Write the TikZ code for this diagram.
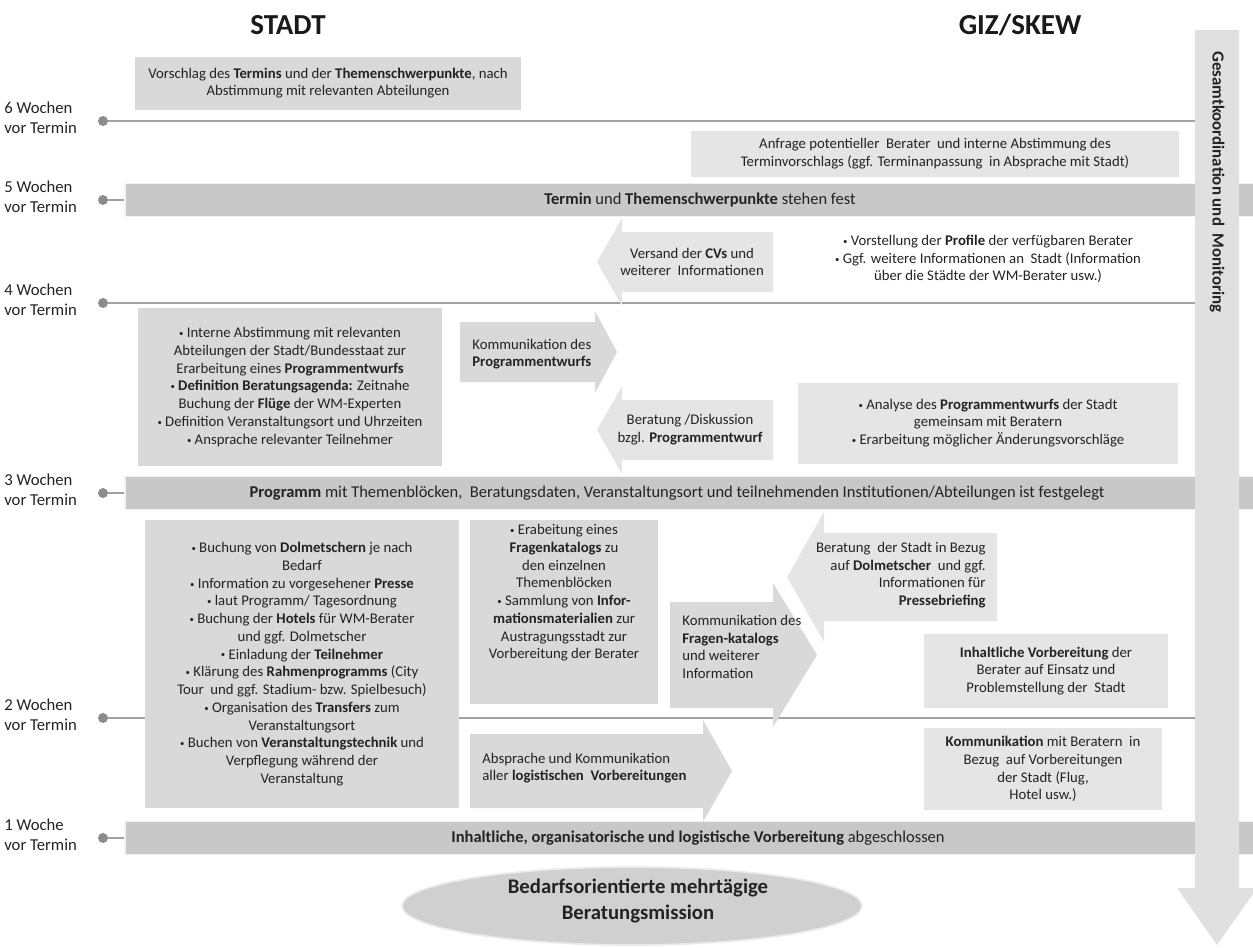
\documentclass[tikz,border=0pt]{standalone}
\usepackage{fontspec}
\setmainfont{Carlito}
\usetikzlibrary{positioning,shapes.geometric}

\definecolor{boxgray}{RGB}{217,217,217}
\definecolor{lightbox}{RGB}{229,229,229}
\definecolor{bargray}{RGB}{200,200,200}
\definecolor{linegray}{RGB}{160,160,160}
\definecolor{dotgray}{RGB}{140,140,140}
\definecolor{txtgray}{RGB}{35,35,35}
\definecolor{mongray}{RGB}{224,224,224}
\definecolor{missiongray}{RGB}{208,208,208}

\newcommand{\bl}{\raisebox{0.15ex}{\fontsize{5}{5}\selectfont•}\ }

\tikzset{
  smalltxt/.style={font=\fontsize{8.4}{10.1}\selectfont, text=txtgray, align=center, inner sep=0pt},
  box/.style={fill=boxgray, smalltxt},
  lbox/.style={fill=lightbox, smalltxt},
  bar/.style={fill=bargray, draw=black!5, line width=1pt, inner sep=0pt, anchor=west},
  bartxt/.style={font=\fontsize{9.4}{11}\selectfont, text=txtgray, inner sep=0pt},
  weeklabel/.style={font=\fontsize{9.5}{11.3}\selectfont, align=left, anchor=west, inner sep=0pt, text=txtgray},
  tline/.style={draw=linegray, line width=1.1pt},
  headline/.style={font=\fontsize{16.5}{20}\selectfont\bfseries, text=black!90},
}

% body end, head base, tip, y centre, half body, half head, colour
\newcommand{\blockarrow}[7]{%
  \fill[#7] (#1,#4-#5) -- (#2,#4-#5) -- (#2,#4-#6) -- (#3,#4) -- (#2,#4+#6) -- (#2,#4+#5) -- (#1,#4+#5) -- cycle;
}

\begin{document}
\begin{tikzpicture}[x=0.02cm, y=-0.02cm]
    \useasboundingbox (0,0) rectangle (1253,947);

    \node[headline] (stadt) at (288,25) {STADT};
    \node[headline] (giz) at (1020,25) {GIZ/SKEW};

    % timeline
    \foreach \n/\yy/\lab in {6/121/Wochen, 5/200/Wochen, 4/303/Wochen, 3/493/Wochen, 2/718/Wochen, 1/838/Woche} {
        \node[weeklabel] (lab\n) at (4,\yy-3) {\n~\lab\\vor Termin};
        \node[circle, fill=dotgray, minimum size=0.2cm, inner sep=0pt] (dot\n) at (103,\yy) {};
    };
    \foreach \n/\yy in {6/121, 4/303, 2/718} {
        \coordinate (end\n) at (1195,\yy);
        \draw[tline] (dot\n) -- (end\n);
    };
    \foreach \n/\yy in {5/200, 3/493, 1/838} {
        \draw[tline] (dot\n) -- (124,\yy);
        \node[bar, minimum width=22.58cm, minimum height=0.66cm] (bar\n) at (124,\yy) {};
    };
    \node[bartxt] (bartxt5) at (700,200) {\textbf{Termin} und \textbf{Themenschwerpunkte} stehen fest};
    \node[bartxt] (bartxt3) at (677,493) {\textbf{Programm} mit Themenblöcken,\ \ Beratungsdaten, Veranstaltungsort und teilnehmenden Institutionen/Abteilungen ist festgelegt};
    \node[bartxt] (bartxt1) at (698,838) {\textbf{Inhaltliche, organisatorische und logistische Vorbereitung} abgeschlossen};

    % boxes
    \node[box, minimum width=7.74cm, minimum height=1.06cm] (vorschlag) at (328,83)
        {Vorschlag des \textbf{Termins} und der \textbf{Themenschwerpunkte}, nach\\Abstimmung mit relevanten Abteilungen};
    \node[lbox, minimum width=9.76cm, minimum height=0.92cm] (anfrage) at (935,154)
        {Anfrage potentieller\ \ Berater\ \ und interne Abstimmung des\\Terminvorschlags (ggf. Terminanpassung\ \ in Absprache mit Stadt)};
    \node[smalltxt] (profile) at (988,259)
        {\bl Vorstellung der \textbf{Profile} der verfügbaren Berater\\\bl Ggf. weitere Informationen an\ \ Stadt (Information\\über die Städte der WM-Berater usw.)};
    \node[box, minimum width=6.08cm, minimum height=3.18cm] (intern) at (290,387)
        {\bl Interne Abstimmung mit relevanten\\Abteilungen der Stadt/Bundesstaat zur\\Erarbeitung eines \textbf{Programmentwurfs}\\\bl \textbf{Definition Beratungsagenda:} Zeitnahe\\Buchung der \textbf{Flüge} der WM-Experten\\\bl Definition Veranstaltungsort und Uhrzeiten\\\bl Ansprache relevanter Teilnehmer};
    \node[lbox, minimum width=7.62cm, minimum height=1.62cm] (analyse) at (988,423)
        {\bl Analyse des \textbf{Programmentwurfs} der Stadt\\gemeinsam mit Beratern\\\bl Erarbeitung möglicher Änderungsvorschläge};
    \node[box, minimum width=6.28cm, minimum height=5.76cm] (buchung) at (302,664)
        {\bl Buchung von \textbf{Dolmetschern} je nach\\Bedarf\\\bl Information zu vorgesehener \textbf{Presse}\\\bl laut Programm/ Tagesordnung\\\bl Buchung der \textbf{Hotels} für WM-Berater\\und ggf. Dolmetscher\\\bl Einladung der \textbf{Teilnehmer}\\\bl Klärung des \textbf{Rahmenprogramms} (City\\Tour\ \ und ggf. Stadium- bzw. Spielbesuch)\\\bl Organisation des \textbf{Transfers} zum\\Veranstaltungsort\\\bl Buchen von \textbf{Veranstaltungstechnik} und\\Verpflegung während der\\Veranstaltung};
    \node[box, minimum width=3.76cm, minimum height=3.7cm] (fragen) at (564,612) {};
    \node[smalltxt, anchor=north] (fragentxt) at (564,524)
        {\bl Erabeitung eines\\\textbf{Fragenkatalogs} zu\\den einzelnen\\Themenblöcken\\\bl Sammlung von \textbf{Infor-}\\\textbf{mationsmaterialien} zur\\Austragungsstadt zur\\Vorbereitung der Berater};
    \node[lbox, minimum width=4.9cm, minimum height=1.48cm] (inhalt) at (1046,671)
        {\textbf{Inhaltliche Vorbereitung} der\\Berater auf Einsatz und\\Problemstellung der\ \ Stadt};
    \node[lbox, minimum width=4.78cm, minimum height=1.64cm] (kommber) at (1043,769)
        {\textbf{Kommunikation} mit Beratern\ \ in\\Bezug\ \ auf Vorbereitungen\\der Stadt (Flug,\\Hotel usw.)};

    % block arrows
    \blockarrow{773}{622}{597}{262}{30}{44}{lightbox}
    \node[smalltxt] (versand) at (692,262) {Versand der \textbf{CVs} und\\weiterer\ \ Informationen};
    \blockarrow{460}{595}{617}{352}{30}{41}{boxgray}
    \node[smalltxt, align=left, anchor=west] (kommprog) at (472,354) {Kommunikation des\\\textbf{Programmentwurfs}};
    \blockarrow{773}{622}{597}{430}{30}{44}{lightbox}
    \node[smalltxt] (diskussion) at (690,430) {Beratung /Diskussion\\bzgl. \textbf{Programmentwurf}};
    \blockarrow{997}{824}{787}{577}{44}{65}{lightbox}
    \node[smalltxt, align=right, anchor=east] (beratstadt) at (986,575) {Beratung\ \ der Stadt in Bezug\\auf \textbf{Dolmetscher}\ \ und ggf.\\Informationen für\\\textbf{Pressebriefing}};
    \blockarrow{670}{773}{817}{655}{53}{72}{boxgray}
    \node[smalltxt, align=left, anchor=west] (kommfragen) at (682,647) {Kommunikation des\\\textbf{Fragen-katalogs}\\und weiterer\\Information};
    \blockarrow{470}{703}{732}{771}{37}{51}{boxgray}
    \node[smalltxt, align=left, anchor=west] (absprache) at (482,768) {Absprache und Kommunikation\\aller \textbf{logistischen\ \ Vorbereitungen}};

    % monitoring arrow
    \fill[mongray] (1195,30) -- (1239,30) -- (1239,888) -- (1257,888) -- (1217,945) -- (1177,888) -- (1195,888) -- cycle;
    \node[rotate=-90, font=\fontsize{9.6}{11}\selectfont\bfseries, text=txtgray] (monitor) at (1217,182) {Gesamtkoordination und\ \ Monitoring};

    % mission
    \node[ellipse, fill=missiongray, draw=black!8, line width=1pt, minimum width=9.2cm, minimum height=1.56cm] (mission) at (632,906) {};
    \node[font=\fontsize{11.8}{14.5}\selectfont\bfseries, align=center, text=txtgray] (missiontxt) at (638,901) {Bedarfsorientierte mehrtägige\\Beratungsmission};
\end{tikzpicture}
\end{document}
